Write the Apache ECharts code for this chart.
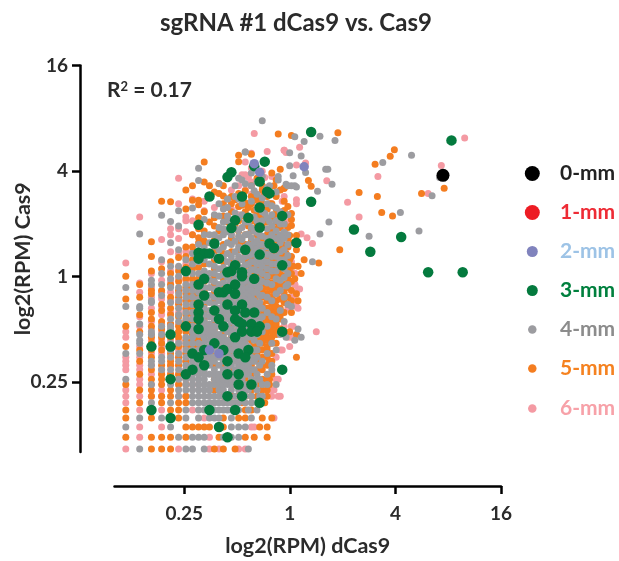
<!DOCTYPE html>
<html>
<head>
<meta charset="utf-8">
<title>sgRNA #1 dCas9 vs. Cas9</title>
<script src="https://cdn.jsdelivr.net/npm/echarts@6/dist/echarts.min.js"></script>
<style>
  html, body { margin: 0; padding: 0; background: #fff; }
  #chart { width: 619px; height: 561px; }
</style>
</head>
<body>
<div id="chart"></div>
<script>
const dCas9RpmPerRead = 0.0232
const cas9RpmPerRead = 0.01735

const tickValues = [0.25, 1, 4, 16]
const mismatchNames = ['0-mm', '1-mm', '2-mm', '3-mm', '4-mm', '5-mm', '6-mm']
const markerColors = ['#000000', '#ed1c24', '#8083bd', '#047a3e', '#9c9ca0', '#f47d20', '#f49aa3']
const labelColors = ['#222222', '#ee2b35', '#9dc3e6', '#00803e', '#8c8c8c', '#f58220', '#f7a1a8']
const legendSizes = [15, 15, 11, 11, 8.5, 8.5, 8.5]
const legendCenters = [173, 212, 251, 290, 329, 368, 408]
const pointSizes = [13, 13, 9.5, 10.5, 7, 7, 7]

// [dCas9 reads, Cas9 reads]
const mm0 = [[322, 218]]
const mm1 = []
const mm2 = [[27, 254], [29, 227], [52, 244], [15, 22], [17, 21]]
const mm3 = [
  [57, 385], [360, 345], [57, 154], [100, 107], [186, 97], [124, 80], [265, 61], [417, 61], [47, 90], [39, 128], [39, 67],
  [31, 261], [27, 246], [20, 227], [19, 213], [29, 201], [32, 176], [33, 172], [15, 165], [23, 165], [29, 143], [25, 125],
  [21, 121], [20, 109], [29, 110], [13, 114], [16, 89], [33, 89], [35, 84], [24, 82], [13, 79], [14, 78], [15, 78], [13, 73],
  [17, 73], [29, 77], [21, 67], [20, 62], [19, 61], [23, 61], [23, 58], [11, 62], [14, 56], [27, 56], [13, 52], [14, 45],
  [17, 47], [18, 47], [19, 49], [21, 52], [21, 46], [19, 40], [13, 40], [23, 40], [13, 36], [13, 33], [16, 37], [21, 37],
  [24, 36], [27, 36], [17, 33], [21, 33], [22, 32], [23, 31], [26, 31], [29, 30], [26, 28], [28, 28], [18, 30], [11, 30],
  [13, 29], [23, 28], [39, 28], [9, 27], [21, 26], [16, 24], [7, 23], [9, 23], [14, 22], [18, 22], [25, 22], [12, 21],
  [13, 20], [22, 21], [24, 20], [19, 19], [14, 18], [12, 17], [11, 16], [39, 17], [9, 15], [19, 16], [22, 16], [22, 14],
  [26, 14], [19, 12], [23, 12], [29, 11], [7, 10], [15, 10], [21, 10], [9, 9], [17, 8], [19, 7]
]

// bottom rows of the lattice: [Cas9 reads, dCas9 reads...]
const mm4Rows = [
  [6, 6, 11, 12, 14, 25],
  [7, 10, 12, 13, 14, 18, 20, 22],
  [8, 5, 9, 20, 22, 24],
  [9, 6, 8, 11, 13, 15, 16, 17, 20, 26],
  [10, 11, 13, 14, 16, 17, 18, 19, 20, 22, 25, 28],
  [11, 7, 9, 12, 13, 14, 15, 16, 17, 18, 19, 20, 21, 22, 24, 26, 28]
]
const mm5Rows = [
  [6, 7, 8, 9, 16, 18, 21],
  [7, 5, 7, 8, 9, 11, 17, 24, 27, 32],
  [8, 11, 12, 13, 14, 15, 18, 29, 32],
  [9, 5, 7, 10, 18, 22, 24, 30, 34],
  [10, 5, 9, 10, 24, 26],
  [11, 6, 8, 10, 11, 23, 31]
]
const mm6Rows = [
  [6, 5, 10, 15, 17, 22, 24],
  [7, 6, 15],
  [8, 6, 8, 26, 27],
  [9, 14, 35],
  [10, 6, 8, 12],
  [11, 5]
]

// the rest of the cloud by column: [dCas9 reads, Cas9 reads...]
const mm4Columns = [
  [5, 15, 21, 39, 50],
  [6, 21, 24, 25, 27, 31, 38, 39, 101],
  [7, 14, 18, 19, 27, 28, 41, 42, 52, 55],
  [8, 17, 19, 20, 27, 30, 45, 52, 60, 72, 129],
  [9, 14, 17, 20, 22, 24, 29, 30, 33, 41, 50, 56, 66, 90, 119],
  [10, 12, 13, 15, 17, 19, 21, 24, 32, 35, 38, 42, 46, 50, 58, 66, 82, 112, 137],
  [11, 13, 14, 15, 16, 17, 18, 20, 22, 24, 26, 33, 36, 40, 44, 48, 52, 60, 72],
  [12, 12, 13, 14, 15, 16, 17, 18, 19, 20, 22, 24, 26, 28, 30, 33, 36, 40, 44, 48, 52, 60, 68, 78, 142],
  [13, 12, 13, 14, 15, 16, 17, 18, 19, 20, 21, 22, 24, 27, 30, 33, 36, 39, 43, 47, 52, 60, 70, 88, 204, 239],
  [14, 12, 13, 14, 15, 16, 17, 18, 19, 20, 22, 24, 26, 28, 30, 32, 35, 38, 42, 46, 50, 55, 62, 72, 84, 100, 122],
  [15, 12, 13, 14, 16, 18, 19, 20, 21, 23, 25, 27, 29, 31, 34, 37, 41, 45, 50, 55, 60, 68, 77, 90, 100],
  [16, 12, 14, 15, 16, 17, 19, 20, 22, 24, 26, 28, 30, 33, 36, 40, 44, 49, 54, 60, 66, 75, 86, 100, 130],
  [17, 12, 13, 14, 15, 16, 18, 20, 21, 23, 25, 27, 30, 32, 35, 38, 42, 46, 52, 58, 64, 72, 82, 96, 110, 128, 150, 195],
  [18, 12, 13, 14, 15, 16, 17, 19, 20, 22, 24, 26, 29, 31, 34, 37, 40, 44, 48, 53, 59, 65, 74, 85, 100, 108, 118, 140],
  [19, 12, 14, 15, 17, 18, 19, 21, 23, 25, 28, 30, 33, 36, 39, 43, 47, 52, 57, 63, 70, 78, 90, 104, 120, 128, 143, 160],
  [20, 13, 14, 15, 16, 18, 19, 20, 22, 24, 27, 29, 32, 35, 38, 41, 45, 49, 54, 60, 67, 75, 88, 100, 115],
  [21, 12, 14, 15, 16, 17, 19, 20, 21, 23, 26, 28, 31, 34, 37, 40, 44, 48, 52, 57, 62, 70, 80, 92, 108, 133, 165, 190],
  [22, 13, 15, 17, 18, 19, 20, 22, 24, 25, 27, 30, 33, 36, 39, 42, 46, 50, 55, 60, 66, 75, 85, 98, 106, 125, 160, 210],
  [23, 13, 15, 17, 19, 21, 23, 25, 28, 31, 34, 37, 40, 43, 48, 52, 58, 64, 72, 82, 94, 110, 130, 150, 205],
  [24, 12, 13, 14, 16, 17, 18, 20, 22, 24, 26, 28, 30, 33, 35, 38, 41, 45, 49, 54, 60, 67, 75, 85, 100, 118, 195, 296],
  [25, 13, 16, 18, 21, 23, 26, 29, 32, 35, 39, 42, 46, 50, 55, 61, 68, 76, 88, 101, 118, 126],
  [26, 12, 14, 15, 17, 19, 20, 22, 27, 31, 34, 37, 40, 44, 48, 52, 57, 63, 70, 77, 86, 96, 110, 125, 155, 190, 225],
  [27, 14, 17, 19, 22, 25, 32, 35, 42, 47, 52, 57, 63, 70, 80, 90, 105, 126, 178],
  [28, 13, 15, 16, 20, 22, 27, 33, 36, 39, 47, 51, 56, 62, 68, 75, 83, 92, 103, 120, 140, 170, 200],
  [29, 12, 15, 18, 24, 33, 41, 45, 50, 55, 62, 70, 78, 88, 100, 115, 142],
  [30, 12, 14, 19, 28, 34, 38, 45, 54, 60, 66, 72, 80, 88, 98, 120, 135, 162, 215, 446],
  [31, 132],
  [32, 14, 16, 21, 30, 36, 44, 53, 58, 64, 70, 77, 85, 95, 108, 125, 150, 185],
  [33, 119, 190],
  [34, 17, 18, 24, 34, 42, 52, 62, 68, 75, 82, 95, 100, 112, 130, 146],
  [36, 14, 22, 33, 46, 56, 62, 68, 75, 85, 95, 105, 120, 142, 175],
  [37, 205, 215],
  [38, 27, 37, 48, 55, 66, 72, 80, 90, 95, 100, 115, 135],
  [40, 32, 44, 57, 64, 72, 82, 95, 103, 115],
  [42, 40, 52, 60, 68, 76, 88, 100, 130, 190],
  [46, 190]
]
const mm5Columns = [
  [5, 14, 23, 30, 43, 58],
  [6, 13, 16, 19, 22, 28, 35, 44, 52],
  [7, 12, 13, 15, 17, 20, 22, 24, 26, 30, 33, 36, 46, 48, 62, 75, 91],
  [8, 12, 14, 15, 16, 18, 22, 24, 26, 29, 32, 37, 40, 48, 64, 155],
  [9, 12, 13, 15, 16, 18, 19, 21, 23, 26, 28, 31, 35, 38, 44, 52, 60, 70, 154],
  [10, 14, 16, 18, 20, 23, 26, 28, 30, 34, 40, 44, 48, 54, 62, 74],
  [11, 12, 14, 16, 19, 21, 23, 25, 28, 30, 32, 35, 38, 42, 46, 50, 56, 65, 75, 85, 140, 180],
  [12, 23, 25, 27, 29, 32, 35, 38, 42, 46, 50, 56, 64, 72, 85, 100, 157, 190],
  [13, 23, 25, 26, 28, 29, 32, 35, 38, 41, 45, 50, 56, 65, 75, 90, 96, 108, 125, 148, 157],
  [14, 21, 23, 25, 27, 29, 31, 33, 36, 40, 44, 48, 54, 60, 68, 78, 88, 92, 105, 135, 200, 260],
  [15, 118, 190],
  [16, 13, 15, 18, 21, 23, 25, 27, 29, 32, 35, 38, 42, 47, 52, 58, 64, 72, 80, 93, 112, 125, 175],
  [17, 105, 172, 196],
  [18, 12, 16, 18, 21, 23, 25, 27, 28, 30, 32, 35, 39, 42, 46, 50, 56, 62, 70, 78, 88, 105, 128, 150, 166, 190],
  [19, 118, 160],
  [20, 12, 14, 17, 19, 21, 23, 26, 28, 30, 34, 37, 40, 43, 47, 51, 56, 62, 70, 80, 95, 110, 135, 150, 165],
  [21, 112, 158],
  [22, 12, 14, 16, 21, 23, 26, 28, 29, 31, 34, 38, 41, 44, 48, 53, 58, 64, 72, 82, 90, 105, 120, 145, 172, 261, 284],
  [23, 128, 147],
  [24, 12, 15, 16, 19, 21, 23, 25, 29, 32, 34, 37, 40, 43, 47, 51, 56, 62, 70, 78, 88, 100, 115, 135, 152, 178],
  [25, 112, 143],
  [26, 12, 13, 16, 18, 21, 23, 25, 26, 28, 30, 33, 35, 38, 41, 46, 50, 55, 60, 65, 72, 80, 92, 105, 120, 150, 165, 190, 288],
  [27, 120, 138, 158],
  [28, 12, 14, 17, 19, 21, 23, 24, 26, 28, 29, 32, 34, 37, 41, 45, 49, 54, 58, 64, 70, 78, 88, 100, 112, 130, 160, 210],
  [29, 128, 152],
  [30, 12, 13, 15, 17, 18, 20, 22, 24, 25, 27, 29, 32, 35, 37, 40, 44, 48, 52, 57, 63, 69, 76, 85, 95, 110, 125, 150, 180, 190],
  [31, 118, 170],
  [32, 12, 13, 15, 18, 20, 22, 23, 25, 26, 28, 31, 33, 35, 38, 42, 46, 50, 55, 60, 66, 72, 80, 90, 100, 118, 140, 165],
  [33, 105, 150],
  [34, 16, 19, 21, 24, 26, 28, 30, 32, 34, 37, 40, 44, 48, 53, 58, 64, 70, 77, 86, 96, 108, 125, 150, 225],
  [35, 130, 190],
  [36, 24, 27, 29, 31, 34, 36, 39, 42, 46, 50, 52, 55, 60, 66, 73, 80, 90, 102, 118, 140, 165, 205],
  [37, 110],
  [38, 29, 33, 35, 38, 43, 48, 52, 57, 62, 69, 76, 85, 95, 110, 130, 180, 236],
  [39, 95],
  [40, 36, 41, 43, 47, 52, 58, 64, 70, 78, 87, 100, 115, 137, 155, 184],
  [41, 78],
  [42, 40, 44, 50, 52, 56, 62, 68, 75, 85, 95, 110, 145],
  [43, 72],
  [44, 36, 42, 48, 54, 60, 66, 75, 113, 122, 132, 368],
  [45, 90],
  [46, 56],
  [47, 46],
  [48, 42, 66],
  [50, 60]
]
const mm6Columns = [
  [5, 12, 13, 17, 18, 19, 20, 26, 28, 69],
  [6, 12, 14, 15, 17, 18, 20, 23, 30, 34, 47, 53, 126],
  [7, 12, 14, 16, 18, 21, 23, 25, 27, 29, 32, 38, 44, 50, 60],
  [8, 12, 13, 16, 17, 21, 23, 25, 28, 31, 35, 39, 43, 47, 55, 70, 94],
  [9, 15, 16, 18, 20, 22, 25, 27, 31, 36, 42, 47, 54, 62, 80, 100, 108],
  [10, 12, 14, 16, 18, 20, 22, 25, 28, 31, 36, 41, 48, 56, 65, 78, 95, 108, 150, 210],
  [11, 12, 15, 17, 19, 21, 24, 29, 32, 37, 42, 48, 55, 68, 80, 104, 120, 126],
  [12, 14, 18, 21, 24, 28, 33, 38, 44, 55, 66, 80, 100, 120, 160],
  [14, 137, 155],
  [16, 143],
  [19, 126],
  [20, 60, 100, 140, 180, 230],
  [22, 130, 145, 190],
  [23, 220],
  [24, 150, 180, 220, 260],
  [25, 212],
  [26, 170, 200, 240, 291],
  [27, 378],
  [28, 90, 150, 155, 200],
  [30, 120, 170, 230],
  [31, 212],
  [32, 100, 140, 180, 298],
  [34, 12, 13, 80, 110, 150, 215],
  [36, 15, 20, 50, 70, 95, 130, 170],
  [38, 12, 22, 35, 45, 60, 85, 120],
  [39, 155],
  [40, 30, 50, 75, 105, 130, 165, 303],
  [42, 26, 38, 60, 85],
  [44, 26, 30, 44, 70],
  [46, 42, 52, 60],
  [48, 38, 49]
]

// loose dots outside the cloud: [dCas9 reads, Cas9 reads]
const mm4Loose = [
  [64, 364], [46, 362], [52, 340], [78, 345], [43, 293], [50, 281], [213, 284], [146, 258], [43, 247], [53, 226], [69, 236],
  [71, 236], [45, 217], [308, 212], [41, 194], [44, 190], [47, 187], [62, 177], [75, 194], [279, 167], [184, 134], [72, 118],
  [235, 105], [64, 101], [122, 98], [40, 103], [58, 70], [24, 296], [48, 29], [50, 26], [46, 25], [41, 26], [44, 39], [41, 51]
]
const mm5Loose = [
  [81, 381], [37, 375], [170, 305], [161, 280], [132, 252], [55, 204], [57, 189], [40, 184], [327, 184],
  [107, 174], [243, 172], [136, 165], [144, 134], [166, 128], [40, 137], [43, 99], [47, 99], [83, 82],
  [52, 72], [63, 69], [47, 82], [45, 66], [40, 87], [40, 58], [47, 27], [43, 28], [47, 20], [33, 19], [33, 15], [33, 14]
]
const mm6Loose = [
  [428, 356], [49, 315], [40, 303], [41, 294], [47, 250], [53, 256], [315, 248], [137, 215], [70, 203], [265, 172], [47, 158],
  [47, 150], [92, 153], [107, 126], [41, 119], [50, 101], [54, 96], [58, 89], [49, 49], [45, 43], [46, 52], [41, 67],
  [43, 62], [46, 60], [61, 28], [43, 23], [39, 22], [47, 39], [45, 30], [37, 35], [37, 15], [35, 13], [37, 12]
]

const fromColumns = columns => columns.flatMap(([x, ...ys]) => ys.map(y => [x, y]))
const fromRows = rows => rows.flatMap(([y, ...xs]) => xs.map(x => [x, y]))
const toRpm = points => points.map(([x, y]) => [x * dCas9RpmPerRead, y * cas9RpmPerRead])

const seriesPoints = [
  mm0,
  mm1,
  mm2,
  mm3,
  [...fromRows(mm4Rows), ...fromColumns(mm4Columns), ...mm4Loose],
  [...fromRows(mm5Rows), ...fromColumns(mm5Columns), ...mm5Loose],
  [...fromRows(mm6Rows), ...fromColumns(mm6Columns), ...mm6Loose]
]

const textFont = 'Lato, "Open Sans", sans-serif'
const textColor = '#2b2b2b'

const logAxis = (name, labelMargin) => ({
  type: 'log',
  logBase: 2,
  min: 0.1,
  max: 16,
  name: name,
  nameLocation: 'middle',
  nameMoveOverlap: false,
  nameTextStyle: { fontFamily: textFont, fontSize: 21.5, fontWeight: 'bold', color: textColor },
  splitLine: { show: false },
  minorTick: { show: false },
  axisLine: { show: true, onZero: false, lineStyle: { color: '#000', width: 2.5 } },
  axisTick: { show: true, length: 8, customValues: tickValues, lineStyle: { color: '#000', width: 2.5 } },
  axisLabel: {
    customValues: tickValues,
    margin: labelMargin,
    fontFamily: textFont,
    fontSize: 19,
    fontWeight: 'bold',
    color: textColor,
    formatter: value => String(Math.round(value * 100) / 100)
  }
})

const chart = echarts.init(document.getElementById('chart'))

chart.setOption({
  animation: false,
  backgroundColor: '#fff',
  title: [
    {
      text: 'sgRNA #1 dCas9 vs. Cas9',
      left: 291,
      top: 6,
      textAlign: 'center',
      textStyle: { fontFamily: textFont, fontSize: 24, fontWeight: 'bold', color: textColor }
    },
    {
      text: '{base|R}{sup|2}{base| = 0.17}',
      left: 107,
      top: 80,
      padding: 0,
      textStyle: {
        rich: {
          base: { fontFamily: textFont, fontSize: 21, fontWeight: 'bold', color: textColor },
          sup: { fontFamily: textFont, fontSize: 13, fontWeight: 'bold', color: textColor, verticalAlign: 'top', padding: [0, 0, 8, 0] }
        }
      }
    }
  ],
  grid: { left: 114.5, top: 65.5, width: 386.5, height: 386.5, outerBoundsMode: 'none' },
  xAxis: { ...logAxis('log2(RPM) dCas9', 18), offset: 34, nameGap: 49 },
  yAxis: { ...logAxis('log2(RPM) Cas9', 12), offset: 34.5, nameGap: 46 },
  legend: mismatchNames.map((name, i) => ({
    data: [name],
    left: 527.3 - legendSizes[i] / 2,
    top: legendCenters[i] - 15,
    itemWidth: legendSizes[i],
    itemHeight: legendSizes[i],
    icon: 'circle',
    selectedMode: false,
    textStyle: {
      fontFamily: textFont,
      fontSize: 21,
      fontWeight: 'bold',
      color: labelColors[i],
      padding: [0, 0, 0, 22.7 - legendSizes[i] / 2]
    }
  })),
  // first names are drawn last so that the low mismatch dots stay on top
  series: mismatchNames.map((name, i) => ({
    type: 'scatter',
    name: name,
    symbol: 'circle',
    symbolSize: pointSizes[i],
    z: 10 - i,
    progressive: 0,
    itemStyle: { color: markerColors[i], opacity: 1 },
    data: toRpm(seriesPoints[i])
  }))
})
</script>
</body>
</html>
